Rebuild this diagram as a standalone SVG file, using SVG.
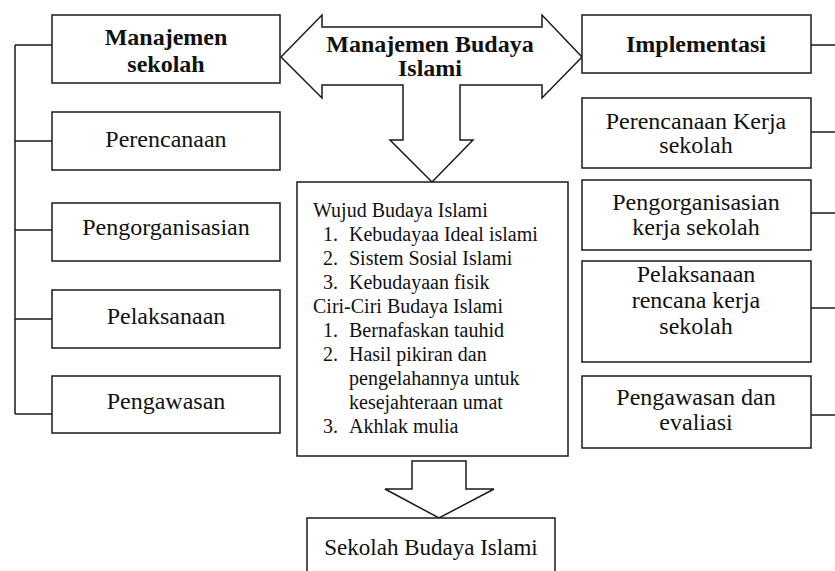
<svg xmlns="http://www.w3.org/2000/svg" width="835" height="571" viewBox="0 0 835 571">
<style>
.box{fill:#fff;stroke:#1a1a1a;stroke-width:1.5}
.ln{fill:none;stroke:#1a1a1a;stroke-width:1.5}
text{font-family:"Liberation Serif","Times New Roman",serif;fill:#111}
.t{font-size:24px;text-anchor:middle}
.b{font-size:24px;font-weight:bold;text-anchor:middle}
.m{font-size:20px}
</style>
<rect width="835" height="571" fill="#fff"/>
<g id="connectors">
<path class="ln" d="M15,45 V414 M15,45 H52 M15,141 H52 M15,230 H52 M15,319 H52 M15,414 H52"/>
<path class="ln" d="M811,45 H835 M811,132 H835 M811,213 H835 M811,308 H835 M811,415 H835"/>
</g>
<g id="arrow-main">
<path class="box" d="M281,57 L322,15 L322,27 L542,27 L542,15 L582,57 L542,98 L542,85 L460,85 L460,140 L473,140 L432,182 L390,140 L403,140 L403,85 L322,85 L322,98 Z"/>
<text class="b" x="430" y="52">Manajemen Budaya</text>
<text class="b" x="430" y="76">Islami</text>
</g>
<g id="arrow-down">
<path class="box" d="M412,461 H466 V489 H494 L439,518 L385,489 H412 Z"/>
</g>
<g id="manajemen-sekolah">
<rect class="box" x="52" y="15" width="228" height="68"/>
<text class="b" x="166" y="45">Manajemen</text>
<text class="b" x="166" y="72">sekolah</text>
</g>
<g id="perencanaan">
<rect class="box" x="52" y="112" width="228" height="58"/>
<text class="t" x="166" y="147">Perencanaan</text>
</g>
<g id="pengorganisasian">
<rect class="box" x="52" y="203" width="228" height="58"/>
<text class="t" x="166" y="235">Pengorganisasian</text>
</g>
<g id="pelaksanaan">
<rect class="box" x="52" y="290" width="228" height="58"/>
<text class="t" x="166" y="324">Pelaksanaan</text>
</g>
<g id="pengawasan">
<rect class="box" x="52" y="376" width="228" height="57"/>
<text class="t" x="166" y="409">Pengawasan</text>
</g>
<g id="implementasi">
<rect class="box" x="582" y="15" width="229" height="58"/>
<text class="b" x="696" y="52">Implementasi</text>
</g>
<g id="perencanaan-kerja">
<rect class="box" x="582" y="98" width="229" height="70"/>
<text class="t" x="696" y="129">Perencanaan Kerja</text>
<text class="t" x="696" y="153">sekolah</text>
</g>
<g id="pengorganisasian-kerja">
<rect class="box" x="582" y="180" width="229" height="70"/>
<text class="t" x="696" y="210">Pengorganisasian</text>
<text class="t" x="696" y="235">kerja sekolah</text>
</g>
<g id="pelaksanaan-rencana">
<rect class="box" x="582" y="261" width="229" height="101"/>
<text class="t" x="696" y="282">Pelaksanaan</text>
<text class="t" x="696" y="308">rencana kerja</text>
<text class="t" x="696" y="334">sekolah</text>
</g>
<g id="pengawasan-evaluasi">
<rect class="box" x="582" y="376" width="229" height="72"/>
<text class="t" x="696" y="405">Pengawasan dan</text>
<text class="t" x="696" y="430">evaliasi</text>
</g>
<g id="budaya-islami">
<rect class="box" x="297" y="182" width="271" height="274"/>
<text class="m" x="313" y="217">Wujud Budaya Islami</text>
<text class="m" x="323" y="241">1.</text><text class="m" x="349" y="241">Kebudayaa Ideal islami</text>
<text class="m" x="323" y="265">2.</text><text class="m" x="349" y="265">Sistem Sosial Islami</text>
<text class="m" x="323" y="289">3.</text><text class="m" x="349" y="289">Kebudayaan fisik</text>
<text class="m" x="313" y="313">Ciri-Ciri Budaya Islami</text>
<text class="m" x="323" y="337">1.</text><text class="m" x="349" y="337">Bernafaskan tauhid</text>
<text class="m" x="323" y="361">2.</text><text class="m" x="349" y="361">Hasil pikiran dan</text>
<text class="m" x="349" y="385">pengelahannya untuk</text>
<text class="m" x="349" y="409">kesejahteraan umat</text>
<text class="m" x="323" y="433">3.</text><text class="m" x="349" y="433">Akhlak mulia</text>
</g>
<g id="sekolah-budaya-islami">
<rect class="box" x="307" y="518" width="248" height="70"/>
<text class="t" x="431" y="555" style="font-size:23px">Sekolah Budaya Islami</text>
</g>
</svg>
